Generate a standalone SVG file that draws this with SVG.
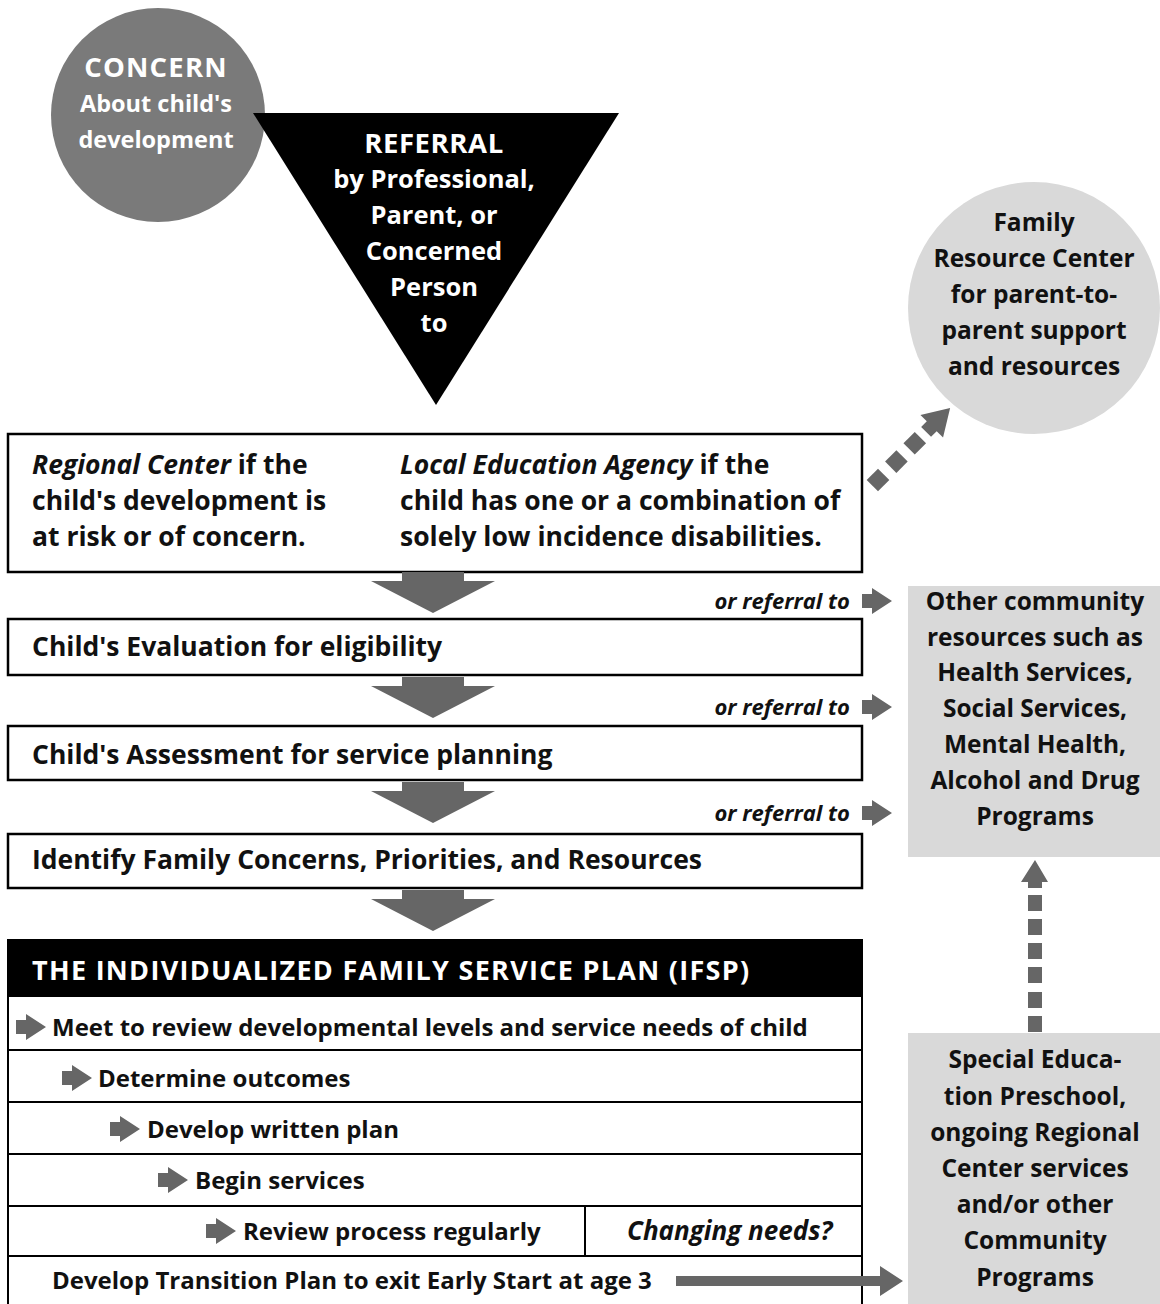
<svg xmlns="http://www.w3.org/2000/svg" width="1160" height="1304" viewBox="0 0 1160 1304">
<style>
text{font-family:"Open Sans","Noto Sans","Liberation Sans",sans-serif;font-weight:bold;font-size:24px;fill:#111}
.c{text-anchor:middle}
.w{fill:#fff}
.i{font-style:italic}
.t{font-size:26.5px}
.s{font-size:24.5px}
.r{text-anchor:end;font-style:italic;font-size:22px}
.box{fill:#fff;stroke:#000;stroke-width:2.5}
.row{fill:#fff;stroke:#000;stroke-width:2}
.ar{fill:#666}
.lg{fill:#d9d9d9}
</style>
<defs>
<path id="big" d="M-31,0 H31 V9 H62 L0,41 L-62,9 H-31 Z"/>
<path id="sm" d="M0,-7 H10 V-13 L30,0 L10,13 V7 H0 Z"/>
</defs>

<g id="concern">
<circle cx="158" cy="115" r="107" fill="#7a7a7a"/>
<text class="c w" x="156" y="77" style="font-size:27.5px;letter-spacing:1.2px">CONCERN</text>
<text class="c w" x="156" y="112" style="font-size:23.5px">About child's</text>
<text class="c w" x="156" y="148" style="font-size:23.5px">development</text>
</g>

<g id="referral">
<polygon points="253,113 619,113 436,405" fill="#000"/>
<text class="c w" x="434" y="153" style="font-size:27.5px;letter-spacing:0.6px">REFERRAL</text>
<text class="c w" x="434" y="188" style="font-size:25.5px">by Professional,</text>
<text class="c w" x="434" y="224" style="font-size:25.5px">Parent, or</text>
<text class="c w" x="434" y="260" style="font-size:25.5px">Concerned</text>
<text class="c w" x="434" y="296" style="font-size:25.5px">Person</text>
<text class="c w" x="434" y="332" style="font-size:25.5px">to</text>
</g>

<g id="family-resource">
<circle cx="1034" cy="308" r="126" class="lg"/>
<text class="c s" x="1034" y="231">Family</text>
<text class="c s" x="1034" y="267">Resource Center</text>
<text class="c s" x="1034" y="303">for parent-to-</text>
<text class="c s" x="1034" y="339">parent support</text>
<text class="c s" x="1034" y="375">and resources</text>
</g>

<g id="agency">
<rect class="box" x="8" y="434" width="854" height="138"/>
<text class="t" x="32" y="474"><tspan class="i">Regional Center</tspan> if the</text>
<text class="t" x="32" y="510">child's development is</text>
<text class="t" x="32" y="546">at risk or of concern.</text>
<text class="t" x="400" y="474"><tspan class="i">Local Education Agency</tspan> if the</text>
<text class="t" x="400" y="510">child has one or a combination of</text>
<text class="t" x="400" y="546">solely low incidence disabilities.</text>
</g>

<g id="evaluation">
<rect class="box" x="8" y="619" width="854" height="56"/>
<text class="t" x="32" y="656">Child's Evaluation for eligibility</text>
</g>

<g id="assessment">
<rect class="box" x="8" y="726" width="854" height="54"/>
<text class="t" x="32" y="764">Child's Assessment for service planning</text>
</g>

<g id="family-concerns">
<rect class="box" x="8" y="834" width="854" height="54"/>
<text class="t" x="32" y="869">Identify Family Concerns, Priorities, and Resources</text>
</g>

<g id="ifsp">
<rect x="8" y="940" width="854" height="56" fill="#000" stroke="#000" stroke-width="2"/>
<text class="w" x="32" y="980" style="font-size:27px;letter-spacing:1.3px">THE INDIVIDUALIZED FAMILY SERVICE PLAN (IFSP)</text>
<rect class="row" x="8" y="996" width="854" height="54"/>
<rect class="row" x="8" y="1050" width="854" height="52"/>
<rect class="row" x="8" y="1102" width="854" height="52"/>
<rect class="row" x="8" y="1154" width="854" height="52"/>
<rect class="row" x="8" y="1206" width="854" height="50"/>
<line x1="585" y1="1206" x2="585" y2="1256" stroke="#000" stroke-width="2"/>
<rect class="row" x="8" y="1256" width="854" height="52"/>
<use href="#sm" class="ar" x="16" y="1027"/>
<text x="52" y="1036">Meet to review developmental levels and service needs of child</text>
<use href="#sm" class="ar" x="62" y="1078"/>
<text x="98" y="1087">Determine outcomes</text>
<use href="#sm" class="ar" x="110" y="1129"/>
<text x="147" y="1138">Develop written plan</text>
<use href="#sm" class="ar" x="158" y="1180"/>
<text x="195" y="1189">Begin services</text>
<use href="#sm" class="ar" x="206" y="1231"/>
<text x="243" y="1240">Review process regularly</text>
<text class="i" x="627" y="1240" style="font-size:26px">Changing needs?</text>
<text x="52" y="1289">Develop Transition Plan to exit Early Start at age 3</text>
</g>

<g id="other-community">
<rect class="lg" x="908" y="586" width="252" height="271"/>
<text class="c s" x="1035" y="610">Other community</text>
<text class="c s" x="1035" y="646">resources such as</text>
<text class="c s" x="1035" y="681">Health Services,</text>
<text class="c s" x="1035" y="717">Social Services,</text>
<text class="c s" x="1035" y="753">Mental Health,</text>
<text class="c s" x="1035" y="789">Alcohol and Drug</text>
<text class="c s" x="1035" y="825">Programs</text>
</g>

<g id="special-education">
<rect class="lg" x="908" y="1033" width="252" height="271"/>
<text class="c s" x="1035" y="1068">Special Educa-</text>
<text class="c s" x="1035" y="1105">tion Preschool,</text>
<text class="c s" x="1035" y="1141">ongoing Regional</text>
<text class="c s" x="1035" y="1177">Center services</text>
<text class="c s" x="1035" y="1213">and/or other</text>
<text class="c s" x="1035" y="1249">Community</text>
<text class="c s" x="1035" y="1286">Programs</text>
</g>

<g id="connectors">
<use href="#big" class="ar" x="433" y="572"/>
<use href="#big" class="ar" x="433" y="677"/>
<use href="#big" class="ar" x="433" y="782"/>
<use href="#big" class="ar" x="433" y="890"/>
<text class="r" x="850" y="609">or referral to</text>
<text class="r" x="850" y="715">or referral to</text>
<text class="r" x="850" y="821">or referral to</text>
<use href="#sm" class="ar" x="862" y="601"/>
<use href="#sm" class="ar" x="862" y="707"/>
<use href="#sm" class="ar" x="862" y="813"/>
<path class="ar" d="M676,1276 H880 V1266 L903,1281 L880,1296 V1286 H676 Z"/>
<g transform="translate(878,480) rotate(-45)" class="ar">
<rect x="-8" y="-8" width="16" height="16"/>
<rect x="18" y="-8" width="16" height="16"/>
<rect x="44" y="-8" width="16" height="16"/>
<path d="M68,-7 H76 V-16 L102,0 L76,16 V7 H68 Z"/>
</g>
<g class="ar">
<path d="M1035,860 L1048,882 H1042 V888 H1028 V882 H1021 Z"/>
<rect x="1028" y="895" width="14" height="16"/>
<rect x="1028" y="919" width="14" height="16"/>
<rect x="1028" y="943" width="14" height="16"/>
<rect x="1028" y="967" width="14" height="16"/>
<rect x="1028" y="992" width="14" height="16"/>
<rect x="1028" y="1016" width="14" height="16"/>
</g>
</g>
</svg>
